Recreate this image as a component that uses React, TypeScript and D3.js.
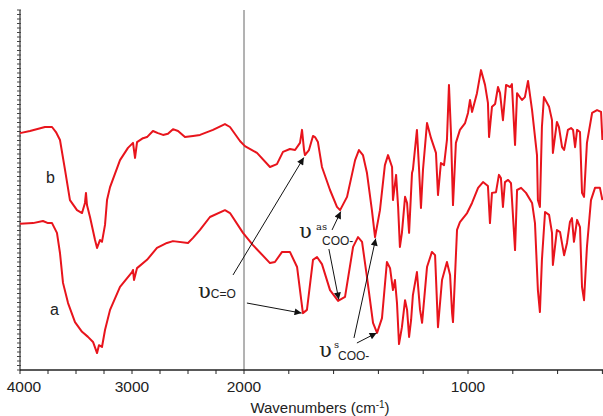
import React from 'react';
import * as d3 from 'd3';

// Spectrum b (upper)
const wnB = [4000,3911,3777,3714,3679,3643,3598,3554,3491,3446,3420,3411,3402,3375,3330,3312,3286,3268,3241,3223,3196,3107,3036,2991,2973,2955,2902,2866,2813,2768,2723,2679,2634,2589,2527,2455,2393,2277,2170,2125,2036,1996,1942,1884,1853,1826,1795,1772,1750,1741,1732,1728,1710,1692,1683,1670,1652,1616,1585,1571,1540,1504,1487,1469,1451,1429,1415,1393,1371,1357,1339,1335,1321,1312,1304,1295,1281,1272,1263,1250,1246,1228,1219,1210,1201,1183,1165,1143,1134,1121,1107,1094,1085,1076,1067,1054,1036,1013,1000,991,982,960,942,924,911,906,893,879,866,857,844,830,812,804,790,781,759,746,732,714,692,688,679,670,661,638,625,621,603,594,580,571,554,540,531,522,513,500,491,482,469,446,424,406,400];
const tB = [65.8,66.4,67.5,67.5,66.1,63.9,55.6,47.2,44.4,43.6,46.4,49.2,45.8,42.5,36.1,33.9,36.1,35.6,40.3,47.2,50.8,58.3,61.7,63.1,58.9,63.3,64.4,64.7,66.4,65.8,65.3,65.6,66.9,66.4,64.7,65.0,65.3,66.7,68.3,67.5,63.6,62.2,60.3,56.4,57.2,60.6,61.4,61.1,63.1,66.7,61.1,59.7,61.1,65.0,64.7,63.3,56.4,50.0,45.3,44.4,48.1,58.3,61.1,59.7,54.7,44.4,36.9,44.4,56.9,59.7,56.4,47.2,54.2,45.3,34.2,38.1,48.1,46.4,38.1,54.7,55.6,66.7,56.4,45.0,55.6,68.6,64.4,60.3,48.6,57.5,56.9,63.9,79.2,65.8,45.8,63.1,66.7,68.6,71.4,75.0,71.7,76.9,83.3,79.2,74.2,64.7,73.1,73.9,78.6,76.9,69.4,79.2,78.6,79.4,62.5,76.9,75.0,75.8,80.3,72.2,59.7,47.2,45.3,67.5,75.8,73.1,69.4,60.3,68.9,67.5,61.9,61.1,66.7,67.2,66.7,61.9,66.7,66.1,49.2,48.1,63.1,71.4,72.2,71.7,63.9];

// Spectrum a (lower)
const wnA = [4000,3884,3795,3750,3714,3670,3643,3616,3571,3509,3446,3393,3348,3312,3295,3268,3241,3196,3107,3000,2991,2982,2955,2866,2777,2688,2634,2500,2455,2393,2304,2170,2125,2009,1960,1884,1862,1830,1795,1763,1737,1719,1692,1674,1652,1616,1580,1549,1513,1491,1473,1451,1424,1406,1384,1362,1348,1335,1326,1317,1308,1295,1281,1272,1263,1254,1246,1228,1214,1205,1183,1161,1147,1134,1116,1094,1080,1071,1067,1049,1036,1004,982,955,933,911,902,893,875,862,853,844,835,821,808,790,781,763,741,714,701,688,679,670,656,638,625,621,603,589,571,558,545,536,527,513,500,491,482,469,451,433,411,400];
const tA = [40.6,40.8,41.4,40.8,40.8,38.1,32.5,24.2,18.6,13.3,10.6,9.2,7.8,4.7,6.9,6.4,11.1,16.7,23.1,27.2,27.8,25.0,28.3,30.6,33.9,35.3,35.8,35.3,36.7,38.9,42.5,44.4,43.6,38.1,34.7,29.7,30.0,32.8,32.8,28.6,15.8,16.7,30.6,31.4,29.4,22.2,19.2,20.3,34.2,36.9,35.6,25.8,13.1,10.3,14.4,30.0,28.3,22.2,25.0,18.6,7.2,11.9,19.4,16.7,9.2,13.9,20.8,27.2,16.7,13.1,28.6,32.8,31.9,11.9,25.0,30.0,26.4,15.8,13.3,38.9,41.1,43.6,46.4,50.6,52.2,51.1,40.8,49.2,49.4,54.2,53.3,45.3,52.2,52.8,51.9,33.3,50.0,50.6,49.2,46.4,40.8,22.2,16.1,30.6,43.9,43.1,38.1,29.2,38.9,38.3,31.9,35.3,41.1,42.2,35.6,41.7,39.7,23.1,19.4,34.2,47.2,50.6,50.6,47.2];

const xTickLabels = [4000, 3000, 2000, 1000];
const xTicksHigh = [4000, 3750, 3500, 3250, 3000, 2750, 2500, 2250, 2000];
const xTicksLow = [1800, 1600, 1400, 1200, 1000, 800, 600, 400];

// arrows: [fromWn, fromT, toWn, toT]
const arrows = [
  [2098, 26.4, 1733, 59.0],
  [1987, 18.6, 1743, 15.8],
  [1607, 38.9, 1568, 44.0],
  [1621, 33.6, 1577, 19.6],
  [1509, 8.9, 1412, 36.5],
  [1496, 7.5, 1408, 10.3],
];

export default function App() {
  const W = 603, H = 416;
  const x = d3.scaleLinear().domain([4000, 2000, 400]).range([20, 244, 602.4]);
  const y = d3.scaleLinear().domain([0, 100]).range([370, 10]);
  const line = d3.line<[number, number]>().x(d => x(d[0])).y(d => y(d[1]));
  const ptsA = wnA.map((w, i) => [w, tA[i]] as [number, number]);
  const ptsB = wnB.map((w, i) => [w, tB[i]] as [number, number]);
  const yTicks = d3.range(0, 100.001, 1.25);
  const red = '#e8141c';
  const sans = 'Liberation Sans, Arial, sans-serif';
  const serif = 'DejaVu Serif, Liberation Serif, serif';
  return (
    <svg width={W} height={H} style={{ position: 'absolute', left: 0, top: 0, background: '#fff' }}>
      <defs>
        <marker id="ah" viewBox="0 0 10 10" refX="10" refY="5" markerWidth="10" markerHeight="7" markerUnits="userSpaceOnUse" orient="auto">
          <path d="M0,0 L10,5 L0,10 z" fill="#111" />
        </marker>
      </defs>
      {/* vertical line at 2000 */}
      <line x1={x(2000)} x2={x(2000)} y1={y(100)} y2={y(0)} stroke="#666" strokeWidth={1} />
      {/* left axis */}
      <line x1={20} x2={20} y1={y(100)} y2={y(0)} stroke="#333" strokeWidth={1.2} />
      {yTicks.map((t, i) => (
        <line key={i} x1={17} x2={21} y1={y(t)} y2={y(t)} stroke="#444" strokeWidth={1} />
      ))}
      {/* bottom axis */}
      <line x1={20} x2={W} y1={y(0)} y2={y(0)} stroke="#222" strokeWidth={1.6} />
      {[...xTicksHigh, ...xTicksLow].map((t, i) => (
        <line key={i} x1={x(t)} x2={x(t)} y1={y(0)} y2={y(0) + 4} stroke="#222" strokeWidth={1} />
      ))}
      {xTickLabels.map((t, i) => (
        <text key={i} x={x(t) + (t === 4000 ? 4 : 0)} y={392} fontFamily={sans} fontSize={15.5} textAnchor="middle" fill="#222">{t}</text>
      ))}
      <text x={320} y={413} fontFamily={sans} fontSize={15} textAnchor="middle" fill="#222">
        Wavenumbers (cm<tspan dy={-5} fontSize={10}>-1</tspan><tspan dy={5}>)</tspan>
      </text>
      {/* spectra */}
      <path d={line(ptsB) || ''} fill="none" stroke={red} strokeWidth={2} strokeLinejoin="round" />
      <path d={line(ptsA) || ''} fill="none" stroke={red} strokeWidth={2} strokeLinejoin="round" />
      {/* curve labels */}
      <text x={46} y={183} fontFamily={sans} fontSize={16} fill="#222">b</text>
      <text x={50} y={315} fontFamily={sans} fontSize={16} fill="#222">a</text>
      {/* arrows */}
      {arrows.map((a, i) => (
        <line key={i} x1={x(a[0])} y1={y(a[1])} x2={x(a[2])} y2={y(a[3])} stroke="#111" strokeWidth={1} markerEnd="url(#ah)" />
      ))}
      {/* annotation labels */}
      <text x={198} y={298} fill="#222">
        <tspan fontFamily={serif} fontSize={21}>υ</tspan>
        <tspan fontFamily={sans} fontSize={12}>C=O</tspan>
      </text>
      <text x={299} y={238} fontFamily={serif} fontSize={21} fill="#222">υ</text>
      <text x={316} y={230} fontFamily={serif} fontSize={10} fill="#222">as</text>
      <text x={322} y={245} fontFamily={sans} fontSize={12} fill="#222">COO-</text>
      <text x={319} y={357} fontFamily={serif} fontSize={21} fill="#222">υ</text>
      <text x={334} y={348} fontFamily={serif} fontSize={10} fill="#222">s</text>
      <text x={338} y={360} fontFamily={sans} fontSize={12} fill="#222">COO-</text>
    </svg>
  );
}
